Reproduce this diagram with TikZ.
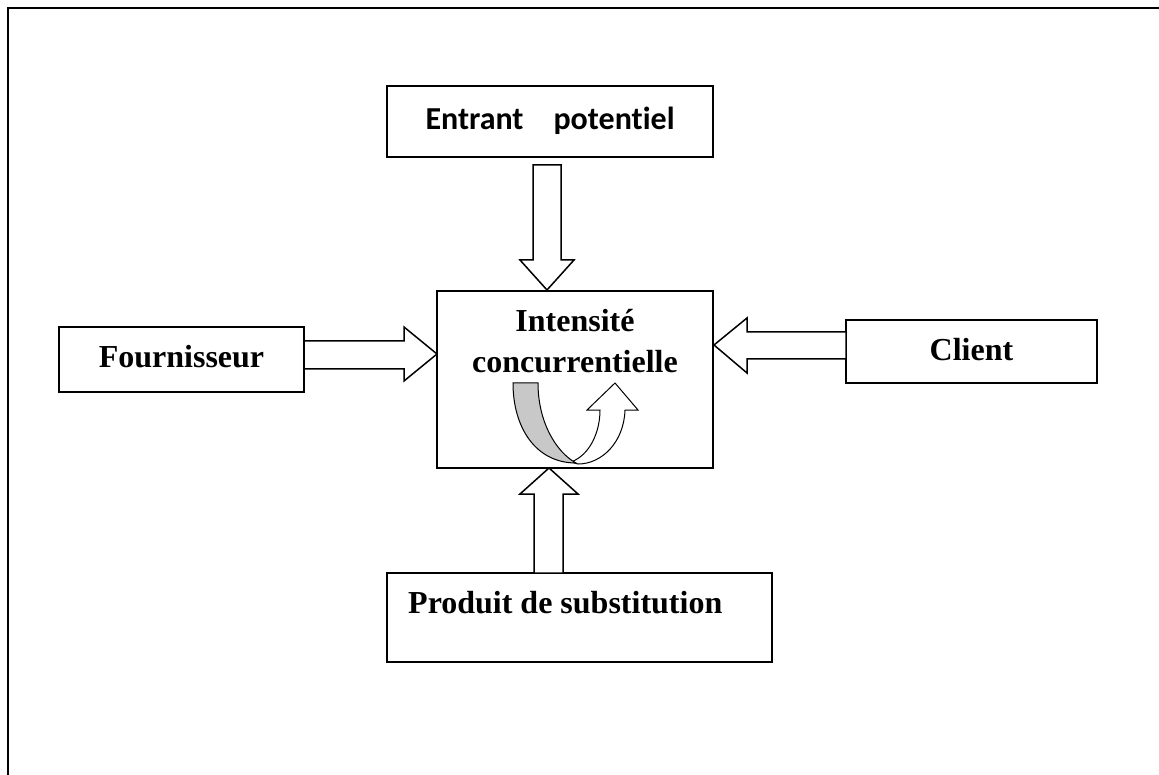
\documentclass[tikz,border=0pt]{standalone}
\usepackage{fontspec}
\setmainfont{Liberation Serif}
\newfontfamily\calib[Ligatures={NoCommon}]{Carlito}
\definecolor{ribbon}{RGB}{200,200,200}
\begin{document}
\begin{tikzpicture}[x=1pt,y=-1pt,
  box/.style={draw,line width=1.5pt,rectangle,inner sep=0pt},
  lbl/.style={inner sep=0pt,anchor=base,font=\fontsize{32}{41}\selectfont\bfseries},
  blockarrow/.style={draw,line width=1.5pt,fill=white,line join=miter}]
\useasboundingbox (0,0) rectangle (1159,775);
\fill[white] (0,0) rectangle (1159,775);
% frame
\draw[line width=2.5pt] (8,775) -- (8,8) -- (1159,8);
% boxes
\node[box,minimum width=326pt,minimum height=71pt] (entrant) at (550,121.5) {};
\node[box,minimum width=276pt,minimum height=177pt] (centre) at (575,379.5) {};
\node[box,minimum width=245pt,minimum height=65pt] (fourn) at (181.5,359.5) {};
\node[box,minimum width=251pt,minimum height=63pt] (client) at (971.5,351.5) {};
\node[box,minimum width=385pt,minimum height=89pt] (produit) at (579.5,617.5) {};
% labels
\node[inner sep=0pt,anchor=base,font=\calib\fontsize{32}{38}\selectfont\bfseries] (tentrant) at (550,130) {Entrant\hspace{30pt}potentiel};
\node[lbl] (tint) at (575,332) {Intensité};
\node[lbl] (tconc) at (575,373) {concurrentielle};
\node[lbl] (tfourn) at (181.5,368) {Fournisseur};
\node[lbl] (tclient) at (971.5,361) {Client};
\node[lbl,anchor=base west] (tproduit) at (408,613) {Produit de substitution};
% block arrows
\draw[blockarrow] (533,165) -- (561,165) -- (561,260) -- (574,260) -- (547,290) -- (520,260) -- (533,260) -- cycle;
\draw[blockarrow] (534,573) -- (534,494) -- (520,494) -- (549,468) -- (578,494) -- (563,494) -- (563,573) -- cycle;
\draw[blockarrow] (304,341) -- (404,341) -- (404,327) -- (437,354) -- (404,381) -- (404,369) -- (304,369) -- cycle;
\draw[blockarrow] (846,332) -- (747,332) -- (747,318) -- (714,345) -- (747,373) -- (747,359) -- (846,359) -- cycle;
% curved up arrow
\draw[line width=1pt,fill=white,line join=miter]
  (571,462) .. controls (590,455) and (600,432) .. (600,410)
  -- (587,410) -- (615,383) -- (638,410) -- (625,410)
  .. controls (624,442) and (602,464) .. (578,464) -- cycle;
\draw[line width=1pt,fill=ribbon]
  (513,383) .. controls (513,428) and (536,463) .. (576,463)
  .. controls (556,452) and (538,422) .. (538,383) -- cycle;
\end{tikzpicture}
\end{document}
